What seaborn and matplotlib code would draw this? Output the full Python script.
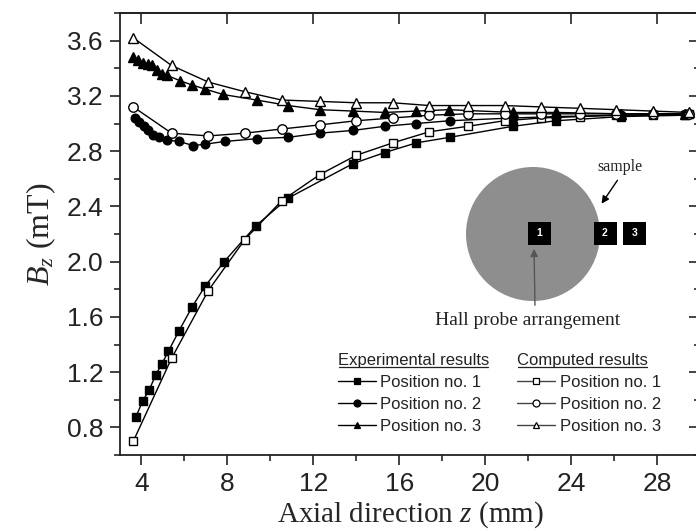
import numpy as np
import pandas as pd
import matplotlib
matplotlib.use("Agg")
import matplotlib.pyplot as plt
import seaborn as sns
from matplotlib.lines import Line2D
from matplotlib.patches import Circle, Rectangle
from matplotlib.ticker import MultipleLocator

# ---------------- data ----------------
exp1_z = [3.74, 4.05, 4.36, 4.66, 4.95, 5.25, 5.75, 6.35, 6.95, 7.85, 9.33, 10.83,
          13.85, 15.33, 16.8, 18.35, 21.3, 23.3, 26.3, 29.3]
exp1_b = [0.875, 0.99, 1.07, 1.18, 1.26, 1.35, 1.50, 1.67, 1.82, 2.00, 2.26, 2.46,
          2.71, 2.79, 2.86, 2.90, 2.98, 3.02, 3.05, 3.06]

exp2_z = [3.70, 3.90, 4.10, 4.32, 4.55, 4.83, 5.17, 5.76, 6.41, 6.95, 7.88, 9.36,
          10.83, 12.3, 13.85, 15.33, 16.8, 18.35, 21.3, 23.3, 26.3, 29.3]
exp2_b = [3.04, 3.01, 2.98, 2.95, 2.92, 2.90, 2.88, 2.87, 2.84, 2.85, 2.87, 2.89,
          2.90, 2.93, 2.95, 2.98, 3.00, 3.02, 3.04, 3.05, 3.06, 3.07]

exp3_z = [3.62, 3.85, 4.08, 4.29, 4.47, 4.71, 4.94, 5.17, 5.79, 6.33, 6.95, 7.8,
          9.36, 10.83, 12.3, 13.85, 15.33, 16.8, 18.3, 21.3, 23.3, 26.3, 29.3]
exp3_b = [3.48, 3.46, 3.44, 3.43, 3.42, 3.39, 3.36, 3.35, 3.31, 3.28, 3.25, 3.21,
          3.17, 3.13, 3.10, 3.09, 3.08, 3.09, 3.10, 3.08, 3.08, 3.07, 3.07]

comp_z = [3.62, 5.4, 7.11, 8.81, 10.52, 12.3, 14.0, 15.7, 17.4, 19.2, 20.9, 22.6,
          24.4, 26.1, 27.8, 29.5]
comp1_b = [0.70, 1.30, 1.79, 2.16, 2.44, 2.63, 2.77, 2.86, 2.94, 2.98, 3.02, 3.04,
           3.05, 3.06, 3.06, 3.07]
comp2_b = [3.12, 2.93, 2.91, 2.93, 2.96, 2.99, 3.02, 3.04, 3.06, 3.07, 3.07, 3.07,
           3.07, 3.07, 3.07, 3.07]
comp3_b = [3.62, 3.42, 3.30, 3.23, 3.17, 3.16, 3.15, 3.15, 3.13, 3.13, 3.13, 3.12,
           3.11, 3.10, 3.09, 3.08]

labels = ["Position no. 1", "Position no. 2", "Position no. 3"]
x_ticks = [4, 8, 12, 16, 20, 24, 28]
y_ticks = [0.8, 1.2, 1.6, 2.0, 2.4, 2.8, 3.2, 3.6]

# ---------------- style ----------------
sns.set_theme(style="ticks")
plt.rcParams["font.family"] = ["Liberation Sans", "DejaVu Sans"]
plt.rcParams["mathtext.fontset"] = "custom"
plt.rcParams["mathtext.rm"] = "Liberation Serif"
plt.rcParams["mathtext.it"] = "Liberation Serif:italic"

fig = plt.figure(figsize=(6.96, 5.31), dpi=100)
W, H = 696, 531
ax = fig.add_axes([120 / W, 1 - 455 / H, 580 / W, 442 / H])

series = [
    (exp1_z, exp1_b, "s", "black", 5.8),
    (exp2_z, exp2_b, "o", "black", 6.2),
    (exp3_z, exp3_b, "^", "black", 7.0),
    (comp_z, comp1_b, "s", "white", 6.4),
    (comp_z, comp2_b, "o", "white", 6.8),
    (comp_z, comp3_b, "^", "white", 7.8),
]
for z, b, m, fc, ms in series:
    df = pd.DataFrame({"z": z, "B": b})
    sns.lineplot(data=df, x="z", y="B", ax=ax, estimator=None, sort=False,
                 color="black", linewidth=1.0, marker=m, markersize=ms,
                 markerfacecolor=fc, markeredgecolor="black", markeredgewidth=1.0,
                 zorder=3 if fc == "black" else 4)

ax.set_xlim(3, 30)
ax.set_ylim(0.6, 3.8)
ax.set_xticks(x_ticks)
ax.set_yticks(y_ticks)
ax.set_yticklabels([f"{v:.1f}" for v in y_ticks])
ax.xaxis.set_minor_locator(MultipleLocator(2))
ax.yaxis.set_minor_locator(MultipleLocator(0.2))
ax.tick_params(which="major", direction="out", length=7, width=1.2,
               labelsize=19, pad=5, colors="#222222")
ax.tick_params(which="minor", direction="out", length=4, width=1.2)
for s in ax.spines.values():
    s.set_linewidth(1.3)
    s.set_color("#222222")

ax.set_xlabel("Axial direction $z$ (mm)", family="Liberation Serif", fontsize=21,
              labelpad=3)
ax.set_ylabel("$B_z$ (mT)", family="Liberation Serif", fontsize=23, labelpad=6)

# mirrored inward ticks on top and right
top = ax.secondary_xaxis("top")
top.set_xticks(x_ticks)
top.tick_params(direction="in", length=8, width=1.2, labeltop=False)
top.spines["top"].set_linewidth(1.3)
right = ax.secondary_yaxis("right")
right.set_yticks(y_ticks)
right.yaxis.set_minor_locator(MultipleLocator(0.2))
right.tick_params(which="major", direction="in", length=8, width=1.2, labelright=False)
right.tick_params(which="minor", direction="in", length=4, width=1.2)

# ---------------- legends ----------------
def handles(fc):
    return [Line2D([], [], color="black" if fc == "black" else "#444444", lw=1.0,
                   marker=m, markersize=5, markerfacecolor=fc,
                   markeredgecolor="black", markeredgewidth=0.9)
            for m in ["s", "o", "^"]]

leg_kw = dict(frameon=False, fontsize=12, title_fontsize=12, loc="upper left",
              handlelength=2.3, handletextpad=0.25, labelspacing=0.42,
              borderpad=0, borderaxespad=0, alignment="left")
leg1 = ax.legend(handles("black"), labels, title="Experimental results",
                 bbox_to_anchor=((338 - 120) / 580, (455 - 353) / 442), **leg_kw)
ax.add_artist(leg1)
leg2 = ax.legend(handles("white"), labels, title="Computed results",
                 bbox_to_anchor=((517 - 120) / 580, (455 - 353) / 442), **leg_kw)
for lg in (leg1, leg2):
    lg.get_title().set_color("#222222")
    for t in lg.get_texts():
        t.set_color("#222222")

# underline legend titles
fig.canvas.draw()
inv = fig.transFigure.inverted()
for lg in (leg1, leg2):
    bb = lg.get_title().get_window_extent()
    (x0, y0) = inv.transform((bb.x0 + 1, bb.y0 + 1))
    (x1, _) = inv.transform((bb.x1 - 1, bb.y0 + 1))
    fig.add_artist(Line2D([x0, x1], [y0, y0], transform=fig.transFigure,
                          color="#222222", lw=0.9))

# ---------------- inset sketch ----------------
ins = fig.add_axes([430 / W, 1 - 335 / H, 270 / W, 185 / H])
ins.set_xlim(430, 700)
ins.set_ylim(335, 150)
ins.axis("off")
ins.add_patch(Circle((533, 234), 67, color="#8e8e8e", lw=0))
for cx, lab in [(539, "1"), (605, "2"), (634.5, "3")]:
    ins.add_patch(Rectangle((cx - 11.5, 221.5), 23, 23, color="black", lw=0))
    ins.text(cx, 233.5, lab, color="white", fontsize=7.5, fontweight="bold",
             ha="center", va="center")
ins.text(620, 167, "sample", family="Liberation Serif", fontsize=11.5,
         ha="center", va="center", color="#222222")
ins.annotate("", xy=(600, 206), xytext=(619, 178),
             arrowprops=dict(arrowstyle="-|>", color="black", lw=1.0,
                             mutation_scale=11))
ins.annotate("", xy=(534, 246), xytext=(535, 308),
             arrowprops=dict(arrowstyle="-|>", color="#555555", lw=1.0,
                             mutation_scale=11))
ins.text(528, 321, "Hall probe arrangement", family="Liberation Serif",
         fontsize=14, ha="center", va="center", color="#222222")

fig.savefig("out.png", dpi=100)
